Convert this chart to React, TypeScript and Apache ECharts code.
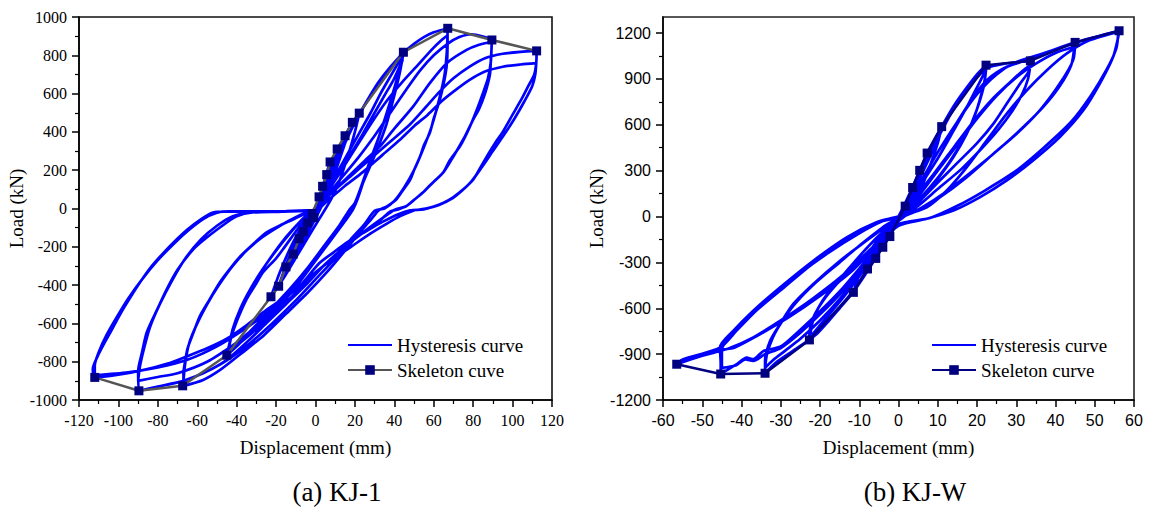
import React, { useEffect, useRef } from 'react';
import * as echarts from 'echarts';

// ---------- (a) KJ-1 ----------
const kj1XTicks = [-120, -100, -80, -60, -40, -20, 0, 20, 40, 60, 80, 100, 120];
const kj1YTicks = [-1000, -800, -600, -400, -200, 0, 200, 400, 600, 800, 1000];

const kj1Skeleton: number[][] = [
  [-112, -882], [-89.6, -952], [-67.4, -926], [-45, -766], [-22.6, -461], [-18.7, -406], [-15, -305],
  [-11.3, -238], [-8.3, -158], [-6.2, -121], [-4, -75], [-0.8, -48], [-1.7, -26], [1.8, 61], [3.6, 116],
  [5.7, 177], [7.4, 243], [11, 311], [15, 380], [18.7, 450], [22.2, 498], [44.6, 816], [67.1, 941],
  [89.5, 880], [112.2, 823],
];

const kj1SmallLoops: number[][] = [
  [0, 0], [1.8, 61], [1, 20], [0, -5], [-1.6, -26], [-0.8, -10], [0, 0],
  [2, 60], [3.6, 116], [2.5, 60], [1, 10], [-1, -25], [-2.5, -50], [-4, -75], [-2.5, -40], [-1, -10], [0, 0],
  [3, 90], [5.5, 180], [7.4, 243], [6, 170], [4, 80], [2, 20], [0, -30], [-3, -70], [-6, -120], [-8.3, -158], [-6, -90], [-3, -40], [0, 0],
  [4, 110], [8, 230], [11, 311], [9, 220], [6, 110], [3, 20], [0, -50], [-4, -110], [-8, -180], [-11.3, -238], [-8, -140], [-4, -60], [0, -5],
  [5, 130], [10, 270], [15, 380], [12, 280], [9, 170], [5, 60], [1, -30], [-4, -110], [-10, -210], [-15, -305], [-11, -200], [-6, -100], [-2, -30], [0, 0],
  [6, 160], [12, 320], [18.7, 450], [15, 340], [11, 220], [7, 100], [3, 10], [-2, -90], [-8, -200], [-14, -310], [-18.7, -406], [-14, -270], [-8, -140], [-3, -40], [0, 0],
  [7, 190], [14, 350], [19, 450], [22.2, 498], [20, 400], [16, 260], [12, 140], [8, 50], [4, -20], [-2, -120], [-9, -240], [-16, -360], [-22.6, -461], [-18, -330], [-12, -190], [-6, -80], [-2, -20], [0, 0],
];

const kj1Loop45: number[][] = [
  [5, 110], [10, 230], [15, 350], [20, 450], [25, 540], [30, 620], [35, 690], [40, 760], [44.6, 816],
  [43, 720], [40, 590], [36, 440], [31, 300], [26, 180], [22, 80], [20, 20], [18, -5],
  [14, -60], [8, -150], [0, -260], [-8, -370], [-16, -470], [-24, -560], [-32, -640], [-39, -710], [-45, -766],
  [-43, -680], [-40, -590], [-35, -474], [-30, -390], [-26.6, -333], [-20, -260], [-16.5, -213], [-10, -120], [-5, -50], [-2, -15], [0, 0],
  [4, 70], [10, 170], [16, 280], [22, 390], [28, 500], [33, 600], [38, 690], [42, 760], [44.5, 800],
  [42, 700], [38, 560], [33, 400], [28, 250], [24, 130], [21, 40], [19, -5],
  [14, -80], [6, -190], [-2, -300], [-10, -410], [-20, -530], [-30, -630], [-38, -700], [-44.5, -750],
  [-42, -630], [-38, -520], [-33, -420], [-27, -320], [-20, -220], [-13, -130], [-6, -50], [0, 0],
  [4, 60], [10, 150], [17, 270], [24, 390], [30, 500], [35, 590], [40, 680], [44.3, 780],
  [41.5, 680], [37, 520], [32, 370], [27, 230], [23, 110], [20, 30], [17, -10],
  [12, -90], [4, -200], [-4, -310], [-13, -420], [-23, -530], [-33, -640], [-40, -700], [-44.2, -740],
  [-41, -600], [-36, -480], [-30, -370], [-23, -260], [-15, -150], [-8, -70], [-3, -20], [0, 0],
];

const kj1Loop67: number[][] = [
  [3, 80], [8, 190], [14, 320], [20, 450], [26, 560], [32, 660], [38, 740], [45, 816], [50, 860], [55, 895], [60, 920], [67, 940],
  [67, 850], [66.5, 740], [65, 650], [63, 565], [60, 470], [58, 395], [55, 330], [53, 270], [50, 200], [48, 150], [44, 90], [41, 47], [36, 10], [32, -10],
  [28, -60], [22, -130], [15, -220], [6, -330], [-4, -440], [-15, -550], [-26, -660], [-38, -760], [-48, -840], [-57, -895], [-67, -926],
  [-67, -860], [-66, -790], [-65, -734], [-62, -650], [-58.6, -561], [-54, -480], [-48.5, -385], [-43, -310], [-38, -248], [-31, -180], [-24.8, -125], [-18, -88], [-11.4, -57], [-6, -30], [0, 0],
  [5, 70], [12, 180], [20, 310], [28, 440], [36, 560], [44, 660], [52, 750], [59, 830], [64, 880], [67, 905],
  [66.5, 800], [65.5, 700], [63, 580], [59, 430], [55, 320], [50, 200], [45, 110], [40, 40], [35, 0], [30, -12],
  [25, -80], [18, -160], [10, -260], [0, -370], [-10, -480], [-22, -600], [-34, -710], [-46, -800], [-57, -860], [-67, -900],
  [-66, -800], [-64, -700], [-60, -600], [-55, -500], [-49, -400], [-42, -300], [-35, -220], [-27, -150], [-18, -90], [-9, -40], [0, 0],
];

const kj1Loop90: number[][] = [
  [6, 70], [14, 170], [22, 270], [30, 380], [38, 500], [46, 620], [53, 720], [60, 800], [67, 860], [73, 895], [79, 910], [85, 898], [89.5, 880],
  [89, 780], [88.5, 700], [86, 600], [83, 520], [80, 464], [76, 380], [73, 325], [69, 255], [65, 190], [60, 140], [54.5, 83], [50, 45], [46, 12], [42, -5], [38, -15],
  [33, -60], [25, -120], [15, -200], [5, -290], [-5, -400], [-15, -500], [-25, -600], [-35, -700], [-45, -790], [-55, -850], [-67, -900], [-80, -930], [-89.6, -952],
  [-90, -850], [-88, -750], [-85.6, -646], [-80, -520], [-75.5, -422], [-70, -320], [-62, -213], [-55, -150], [-45, -73], [-40, -40], [-32, -21], [-17, -16], [0, -5],
  [6, 60], [15, 150], [25, 250], [32.7, 324], [39.5, 411], [49.6, 533], [58, 655], [66.6, 759], [76.7, 828], [83, 855], [89.4, 871],
  [89, 770], [87.5, 680], [85, 604], [82, 520], [78, 420], [73.3, 325], [68, 250], [64.7, 187], [58, 120], [54.5, 83], [50, 45], [46, 12], [40, -8],
  [34, -50], [26, -110], [16, -190], [6, -280], [-4, -380], [-14, -480], [-26, -590], [-40, -700], [-55, -800], [-70, -860], [-80, -880], [-90, -900],
  [-89, -820], [-87, -730], [-84, -620], [-79, -500], [-73, -380], [-66, -260], [-58, -160], [-50, -90], [-42, -40], [-32, -20], [-17, -16], [0, -5],
];

const kj1Loop112: number[][] = [
  [8, 80], [18, 170], [28, 260], [38, 350], [48, 440], [56, 530], [63, 610], [70, 680], [78, 740], [86, 785], [95, 808], [104, 818], [112.2, 823],
  [112, 760], [111, 700], [108, 640], [105, 580], [100, 490], [95, 400], [91, 340], [88, 290], [84, 220], [80, 150], [75, 100], [70, 60], [65, 30], [60, 10], [55, -5], [48, -10],
  [42, -30], [34, -70], [28, -105], [22, -140], [16, -177], [9, -230], [2, -285], [-8, -405], [-15, -460], [-25, -530], [-35, -610], [-45, -680], [-55, -730], [-66, -775], [-75, -810], [-87, -843], [-100, -868], [-112, -882],
  [-113, -838], [-110, -760], [-107, -700], [-104, -646], [-99, -550], [-94, -465], [-89, -385], [-83, -300], [-77, -230], [-72, -177], [-65, -110], [-58, -55], [-52, -21], [-45, -16], [-30, -15], [-15, -14], [0, -10],
  [6, 40], [14, 110], [24, 190], [34, 280], [43, 360], [50, 430], [57, 490], [64, 560], [70, 610], [78, 670], [86, 715], [95, 740], [104, 752], [112, 759],
  [111.5, 700], [110, 640], [106, 560], [101, 470], [96, 390], [90, 300], [84, 210], [79, 140], [74, 90], [69, 50], [63, 20], [56, 0], [50, -10],
  [43, -40], [36, -80], [28, -130], [18, -200], [8, -270], [-2, -350], [-12, -440], [-24, -540], [-36, -630], [-50, -720], [-65, -790], [-80, -830], [-95, -855], [-112, -870],
  [-112, -820], [-110, -750], [-106, -660], [-101, -570], [-95, -470], [-88, -370], [-80, -270], [-72, -185], [-64, -110], [-57, -55], [-50, -22], [-44, -15], [-30, -15], [-15, -13], [0, -8],
];

// ---------- (b) KJ-W ----------
const kjwXTicks = [-60, -50, -40, -30, -20, -10, 0, 10, 20, 30, 40, 50, 60];
const kjwYTicks = [-1200, -900, -600, -300, 0, 300, 600, 900, 1200];
const kjwYMinorTicks = [-1050, -750, -450, -150, 150, 450, 750, 1050];

const kjwSkeleton: number[][] = [
  [-56.5, -966], [-45.3, -1030], [-34, -1025], [-22.7, -807], [-11.5, -496], [-7.9, -343], [-5.8, -274],
  [-4, -201], [-2.2, -131], [1.7, 68], [3.6, 190], [5.4, 302], [7.3, 415], [11, 588], [22.3, 990],
  [33.6, 1018], [45, 1139], [56.2, 1215],
];

const kjwSmallLoops: number[][] = [
  [0, 0], [1, 35], [1.7, 68], [1, 30], [0, -20], [-1, -70], [-2.2, -131], [-1.2, -60], [0, 0],
  [2, 100], [3.6, 190], [2.5, 120], [1, 30], [-1, -60], [-2.5, -130], [-4, -201], [-2.5, -110], [-1, -30], [0, 0],
  [2.5, 130], [5.4, 302], [4, 200], [2, 80], [0, -20], [-2, -100], [-4, -190], [-5.8, -274], [-4, -160], [-2, -60], [0, 0],
  [3, 160], [5.5, 300], [7.3, 415], [5.5, 280], [3, 130], [0.5, 0], [-2, -100], [-5, -230], [-7.9, -343], [-5.5, -210], [-2.5, -90], [0, 0],
  [3, 150], [6, 310], [9, 480], [11, 588], [10, 480], [8, 330], [6, 200], [3, 70], [0, -30], [-3, -140], [-6, -270], [-9, -390], [-11.5, -496], [-10, -380], [-8, -260], [-5, -140], [-2, -50], [0, 0],
];

const kjwLoop22: number[][] = [
  [3.6, 190], [7.3, 415], [11, 588], [14, 720], [17, 830], [20, 930], [22.3, 990],
  [22, 900], [21.6, 848], [19.9, 695], [17.4, 542], [14, 389], [9.7, 236], [5.5, 105], [2, 20], [0, -30],
  [-3, -150], [-6, -280], [-9, -400], [-12, -510], [-15, -600], [-18, -690], [-20.5, -760], [-22.7, -807],
  [-22.7, -769], [-21.7, -660], [-19.2, -551], [-15.7, -441], [-11.5, -332], [-7.3, -223], [-4, -120], [-1.5, -40], [0, 0],
  [3, 100], [6, 220], [10, 380], [14, 560], [17.5, 720], [20.5, 870], [22.3, 960],
  [21.8, 860], [20.5, 740], [18.5, 600], [15.5, 460], [12, 320], [8, 190], [4, 80], [0, -20],
  [-4, -170], [-8, -320], [-12, -460], [-16, -590], [-20, -710], [-22.5, -790],
  [-22, -700], [-20.5, -600], [-18, -500], [-14, -380], [-10, -260], [-6, -150], [-2, -50], [0, 0],
];

const kjwLoop34: number[][] = [
  [4, 180], [8, 390], [11, 560], [15, 740], [19, 880], [22.5, 970], [27, 1000], [33.6, 1018],
  [33.2, 950], [31, 870], [27.6, 739], [24.2, 608], [19.9, 477], [14.8, 346], [9.7, 214], [5, 90], [1.5, 0], [0, -30],
  [-4, -190], [-8, -350], [-12, -500], [-16, -620], [-20, -730], [-23, -810], [-27, -880], [-31, -950], [-34, -1025],
  [-34, -944], [-32.7, -813], [-30.2, -704], [-26.8, -572], [-21.7, -441], [-14.9, -289], [-8.1, -157], [-3, -60], [0, 0],
  [4, 120], [9, 280], [14, 450], [19, 620], [24, 770], [28.5, 880], [31.5, 950], [33.6, 990],
  [33, 900], [31.5, 800], [29, 690], [25.5, 570], [21, 440], [16, 310], [10, 180], [5, 70], [0, -20],
  [-5, -200], [-10, -380], [-15, -540], [-20, -680], [-25, -800], [-29, -880], [-32, -940], [-34, -990],
  [-33.5, -900], [-32, -790], [-29.5, -680], [-26, -560], [-21, -430], [-15, -300], [-9, -170], [-4, -70], [0, 0],
];

const kjwLoop45: number[][] = [
  [5, 200], [10, 420], [15, 620], [19, 780], [22.5, 892], [27.6, 979], [34.3, 1034], [39.4, 1089], [45, 1139],
  [44.5, 1023], [41.1, 870], [36, 695], [30.1, 542], [24.2, 411], [17.4, 258], [10.6, 127], [5, 40], [0, -20],
  [-5, -180], [-10, -340], [-15, -490], [-20, -620], [-25, -740], [-30, -850], [-34.4, -879], [-37, -933], [-38.7, -923], [-41.2, -966], [-45.3, -1030],
  [-45.3, -960], [-45.5, -857], [-42.1, -748], [-37, -616], [-30.2, -464], [-21.7, -289], [-13.2, -136], [-5.6, -37], [0, 0],
  [5, 130], [10, 300], [15, 470], [20, 640], [25, 790], [30, 910], [35, 1000], [40, 1070], [44.8, 1110],
  [44, 990], [41, 850], [37, 720], [32, 590], [26, 450], [19, 300], [12, 160], [6, 60], [0, -20],
  [-5, -190], [-10, -360], [-15, -510], [-20, -640], [-25, -760], [-30, -860], [-34, -900], [-37, -945], [-39, -935], [-41.5, -975], [-45, -990],
  [-45, -870], [-43, -790], [-39, -680], [-33, -540], [-26, -390], [-18, -240], [-10, -110], [-4, -30], [0, 0],
];

const kjwLoop56: number[][] = [
  [5, 200], [10, 420], [15, 620], [20, 800], [25, 930], [30, 1010], [36, 1060], [42, 1110], [48, 1160], [56.2, 1215],
  [56, 1176], [54.7, 1045], [51.3, 870], [47.1, 695], [41.1, 520], [34.3, 367], [27.6, 236], [20.8, 127], [14, 39], [7.2, -15], [0, -60],
  [-6, -200], [-12, -360], [-20, -520], [-28, -660], [-36, -780], [-42, -860], [-45, -870], [-50, -910], [-56.5, -966],
  [-56, -950], [-50, -905], [-45.5, -857], [-42.1, -748], [-37, -616], [-30.2, -464], [-21.7, -289], [-13.2, -136], [-5.6, -37], [0, 0],
  [7.2, 61], [12.3, 170], [17.4, 323], [22.5, 498], [27.6, 673], [32.7, 826], [37.8, 957], [42.9, 1067], [48.8, 1154], [56, 1208],
  [55.5, 1100], [53, 960], [49, 790], [44, 620], [37, 450], [30, 300], [22, 170], [15, 70], [8, -10], [0, -50],
  [-7, -210], [-14, -380], [-22, -540], [-30, -680], [-37, -790], [-43, -860], [-47, -890], [-52, -925], [-56, -955],
  [-55, -935], [-49, -890], [-45, -850], [-41, -740], [-36, -610], [-29, -460], [-21, -290], [-12, -130], [-5, -35], [0, 0],
];

const kj1Hysteresis = [...kj1SmallLoops, ...kj1Loop45, ...kj1Loop67, ...kj1Loop90, ...kj1Loop112];
const kjwHysteresis = [...kjwSmallLoops, ...kjwLoop22, ...kjwLoop34, ...kjwLoop45, ...kjwLoop56];

const SERIF = 'Liberation Serif';
const SANS = 'Liberation Sans';
const BLUE = '#0000ff';
const NAVY = '#000080';
const plain = (v: number) => String(v);

function buildOption(): any {
  const axisLine = { show: true, onZero: false, lineStyle: { color: '#000', width: 1.5 } };
  const axisTick = { show: true, inside: false, length: 7, lineStyle: { color: '#000', width: 1.5 } };
  const minorTick = { show: true, splitNumber: 2, length: 4, lineStyle: { color: '#000', width: 1.2 } };
  const titleStyle = { fontFamily: SERIF, fontSize: 19, color: '#000' };
  const hideIcon = { color: 'rgba(0,0,0,0)', borderColor: 'rgba(0,0,0,0)', borderWidth: 0 };
  return {
    animation: false,
    backgroundColor: '#fff',
    grid: [
      { left: 79, top: 17, width: 473, height: 383, show: true, borderColor: '#111', borderWidth: 1.6, backgroundColor: 'transparent' },
      { left: 663, top: 17, width: 471, height: 383, show: true, borderColor: '#222', borderWidth: 1.6, backgroundColor: 'transparent' },
    ],
    xAxis: [
      {
        gridIndex: 0, type: 'value', min: kj1XTicks[0], max: kj1XTicks[kj1XTicks.length - 1], interval: 20,
        axisLine, axisTick, minorTick, splitLine: { show: false }, minorSplitLine: { show: false },
        axisLabel: { margin: 12, fontFamily: SERIF, fontSize: 16, color: '#000', formatter: plain },
        name: 'Displacement (mm)', nameLocation: 'middle', nameGap: 38, nameTextStyle: titleStyle,
      },
      {
        gridIndex: 1, type: 'value', min: kjwXTicks[0], max: kjwXTicks[kjwXTicks.length - 1], interval: 10,
        axisLine, axisTick, minorTick, splitLine: { show: false }, minorSplitLine: { show: false },
        axisLabel: { margin: 12, fontFamily: SANS, fontSize: 16, color: '#000', formatter: plain },
        name: 'Displacement (mm)', nameLocation: 'middle', nameGap: 38, nameTextStyle: titleStyle,
      },
    ],
    yAxis: [
      {
        gridIndex: 0, type: 'value', position: 'left', min: kj1YTicks[0], max: kj1YTicks[kj1YTicks.length - 1], interval: 200,
        axisLine, axisTick, minorTick, splitLine: { show: false }, minorSplitLine: { show: false },
        axisLabel: { margin: 12, fontFamily: SERIF, fontSize: 16, color: '#000', formatter: plain },
        name: 'Load (kN)', nameLocation: 'middle', nameGap: 50, nameRotate: 90, nameTextStyle: titleStyle,
      },
      {
        gridIndex: 1, type: 'value', position: 'left', min: kjwYTicks[0], max: 1305,
        axisLine, splitLine: { show: false },
        axisTick: { ...axisTick, customValues: kjwYTicks },
        axisLabel: { margin: 12, fontFamily: SANS, fontSize: 16, color: '#000', customValues: kjwYTicks, formatter: plain },
        name: 'Load (kN)', nameLocation: 'middle', nameGap: 53, nameRotate: 90, nameTextStyle: titleStyle,
      },
      {
        gridIndex: 1, type: 'value', position: 'left', offset: 0, min: kjwYTicks[0], max: 1305,
        axisLine: { show: false, onZero: false }, splitLine: { show: false },
        axisTick: { show: true, inside: false, length: 4, lineStyle: { color: '#000', width: 1.2 }, customValues: kjwYMinorTicks },
        axisLabel: { show: false },
      },
    ],
    legend: [
      {
        left: 347, top: 335, orient: 'vertical', padding: 0, itemGap: 5, itemWidth: 44, itemHeight: 12,
        data: [{ name: 'Hysteresis curve', itemStyle: hideIcon }, 'Skeleton cuve'],
        textStyle: { fontFamily: SERIF, fontSize: 19, color: '#000', lineHeight: 20 },
      },
      {
        left: 931, top: 335, orient: 'vertical', padding: 0, itemGap: 5, itemWidth: 44, itemHeight: 12,
        data: [{ name: 'Hysteresis curve', itemStyle: hideIcon }, 'Skeleton curve'],
        textStyle: { fontFamily: SERIF, fontSize: 19, color: '#000', lineHeight: 20 },
      },
    ],
    graphic: [
      { type: 'text', style: { text: '(a) KJ-1', x: 337, y: 492, align: 'center', verticalAlign: 'middle', fontFamily: SERIF, fontSize: 27, fill: '#000' } },
      { type: 'text', style: { text: '(b) KJ-W', x: 915, y: 492, align: 'center', verticalAlign: 'middle', fontFamily: SERIF, fontSize: 27, fill: '#000' } },
    ],
    series: [
      {
        name: 'Hysteresis curve', type: 'line', xAxisIndex: 0, yAxisIndex: 0, data: kj1Hysteresis,
        showSymbol: false, symbol: 'none', smooth: 0.25, lineStyle: { color: BLUE, width: 2.7 }, itemStyle: { color: BLUE },
      },
      {
        name: 'Skeleton cuve', type: 'line', xAxisIndex: 0, yAxisIndex: 0, data: kj1Skeleton,
        symbol: 'rect', symbolSize: 9, lineStyle: { color: '#555555', width: 2.5 }, itemStyle: { color: NAVY },
      },
      {
        name: 'Hysteresis curve', type: 'line', xAxisIndex: 1, yAxisIndex: 1, data: kjwHysteresis,
        showSymbol: false, symbol: 'none', smooth: 0.25, lineStyle: { color: BLUE, width: 2.7 }, itemStyle: { color: BLUE },
      },
      {
        name: 'Skeleton curve', type: 'line', xAxisIndex: 1, yAxisIndex: 1, data: kjwSkeleton,
        symbol: 'rect', symbolSize: 9, lineStyle: { color: NAVY, width: 2.5 }, itemStyle: { color: NAVY },
      },
    ],
  };
}

export default function App() {
  const ref = useRef<HTMLDivElement>(null);
  useEffect(() => {
    if (!ref.current) return;
    const chart = echarts.init(ref.current, undefined, { renderer: 'svg' });
    chart.setOption(buildOption());
    return () => chart.dispose();
  }, []);
  return (
    <div
      ref={ref}
      style={{ position: 'fixed', left: 0, top: 0, width: 1150, height: 509, background: '#fff' }}
    />
  );
}
